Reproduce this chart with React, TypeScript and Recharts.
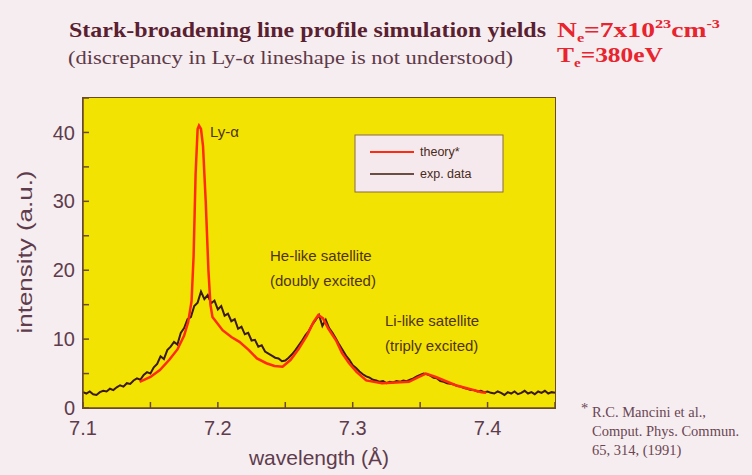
import React from 'react';
import { LineChart, Line, XAxis, YAxis } from 'recharts';

// experimental spectrum, sampled every 0.0025 A from 7.1
const expStart = 7.1;
const expStep = 0.0025;
const expIntensity = [
  2.3, 2.1, 2.4, 2.0, 1.9, 2.3, 2.5, 2.4, 2.8, 2.6,
  3.0, 3.3, 3.1, 3.6, 3.5, 4.0, 4.3, 4.1, 4.8, 5.2,
  5.0, 5.9, 6.4, 7.5, 7.1, 8.4, 8.9, 9.6, 9.2, 10.9,
  11.6, 12.9, 13.2, 14.8, 15.3, 16.9, 15.8, 16.4, 15.2, 15.6,
  14.3, 14.8, 13.4, 13.7, 12.6, 12.9, 11.5, 11.8, 10.7, 10.9,
  9.8, 9.9, 8.9, 9.1, 8.2, 7.9, 7.6, 7.3, 7.2, 6.8,
  6.9, 7.3, 7.8, 8.4, 9.1, 9.8, 10.6, 11.2, 12.1, 12.8,
  13.5, 11.9, 12.8, 11.6, 10.9, 10.1, 9.2, 8.4, 7.6, 7.0,
  6.2, 5.8, 5.3, 4.9, 4.6, 4.4, 4.1, 4.0, 3.8, 3.9,
  3.6, 3.8, 3.7, 3.9, 3.8, 4.0, 3.9, 4.1, 4.3, 4.6,
  4.8, 5.0, 4.9, 4.7, 4.4, 4.3, 3.9, 3.8, 3.6, 3.5,
  3.4, 3.2, 3.1, 2.9, 2.8, 2.6, 2.6, 2.4, 2.5, 2.3,
  2.4, 2.2, 2.1, 2.4, 2.2, 1.9, 2.3, 2.1, 2.4, 2.0,
  2.2, 2.5, 2.1, 2.3, 2.0, 2.4, 2.2, 2.5, 2.1, 2.3,
  2.2,
];

// Stark-broadened line profile calculation
const theoryWavelength = [
  7.142, 7.15, 7.157, 7.164, 7.17, 7.175, 7.178, 7.1805, 7.182, 7.1835,
  7.185, 7.186, 7.1875, 7.189, 7.191, 7.193, 7.1945, 7.196, 7.2, 7.2035,
  7.21, 7.216, 7.223, 7.229, 7.236, 7.242, 7.248, 7.254, 7.26, 7.266,
  7.271, 7.2745, 7.278, 7.282, 7.2877, 7.292, 7.2973, 7.303, 7.31, 7.3217,
  7.332, 7.3417, 7.348, 7.3542, 7.3616, 7.3764, 7.386, 7.3956, 7.399,
];
const theoryIntensity = [
  3.8, 4.5, 5.5, 7.0, 8.5, 10.5, 12.5, 15.5, 22, 34,
  40.5, 41, 40.5, 38, 30, 20, 15, 13.2, 12.2, 11.3,
  10.3, 9.6, 8.4, 7.2, 6.5, 6.1, 6.0, 7.0, 8.6, 10.5,
  12.5, 13.5, 13.0, 11.5, 9.8, 8.0, 6.5, 5.2, 4.0, 3.6,
  3.7, 3.8, 4.4, 5.0, 4.5, 3.3, 2.8, 2.3, 2.2,
];

const xTicks = [7.1, 7.15, 7.2, 7.25, 7.3, 7.35, 7.4, 7.45];
const xLabels = ['7.1', '', '7.2', '', '7.3', '', '7.4', ''];
const yTicks = [0, 5, 10, 15, 20, 25, 30, 35, 40, 45];
const yLabels = ['0', '', '10', '', '20', '', '30', '', '40', ''];

const expData = expIntensity.map((v, i) => ({
  wavelength: +(expStart + i * expStep).toFixed(4),
  intensity: v,
}));
const theoryData = theoryWavelength.map((w, i) => ({ wavelength: w, intensity: theoryIntensity[i] }));

const frame = '#6a4a2a';
const tickColor = '#5e3c4c';

export default function App() {
  return (
    <div style={{ position: 'fixed', left: 0, top: 0, width: 752, height: 475, background: '#f6edf1', overflow: 'hidden' }}>
      {/* yellow plot background with its frame, under the chart svg */}
      <div style={{ position: 'absolute', left: 82, top: 97, width: 474, height: 312, boxSizing: 'border-box', background: '#f3e303', border: `1.5px solid ${frame}` }} />
      <div style={{ position: 'absolute', left: 0, top: 0 }}>
        <LineChart width={752} height={475} margin={{ top: 98, right: 197, left: 33, bottom: 27 }}>
          <XAxis
            dataKey="wavelength" type="number" domain={[7.1, 7.45]} ticks={xTicks}
            tickFormatter={(v, i) => xLabels[i]} interval={0} height={40} tickSize={-6} tickMargin={19}
            tickLine={{ stroke: frame, strokeWidth: 1.5 }} axisLine={{ stroke: frame, strokeWidth: 1.5 }}
            tick={{ fill: tickColor, fontSize: 20, fontFamily: 'Liberation Sans, Arial, sans-serif' }}
            label={{ value: 'wavelength (Å)', position: 'insideBottom', offset: -17, fill: tickColor, fontSize: 21, fontFamily: 'Liberation Sans, Arial, sans-serif' }}
          />
          <YAxis
            type="number" domain={[0, 45]} ticks={yTicks} interval={0} width={50}
            tickFormatter={(v, i) => yLabels[i]} tickSize={-6} tickMargin={14}
            tickLine={{ stroke: frame, strokeWidth: 1.5 }} axisLine={{ stroke: frame, strokeWidth: 1.5 }}
            tick={{ fill: tickColor, fontSize: 20, fontFamily: 'Liberation Sans, Arial, sans-serif' }}
          />
          <Line data={expData} dataKey="intensity" type="linear" dot={false}
            stroke="#3b1a0c" strokeWidth={2} isAnimationActive={false} />
          <Line data={theoryData} dataKey="intensity" type="linear" dot={false}
            stroke="#ff2a10" strokeWidth={2.5} isAnimationActive={false} />
        </LineChart>
      </div>
      <svg width={752} height={475} style={{ position: 'absolute', left: 0, top: 0, pointerEvents: 'none' }}>
        <g fontFamily="Liberation Serif, Times New Roman, serif">
          <text x={69} y={37} fontSize={21} fontWeight="bold" fill="#5a1f30" textLength={477} lengthAdjust="spacingAndGlyphs">
            Stark-broadening line profile simulation yields
          </text>
          <text x={68} y={64} fontSize={18} fill="#5e3a48" textLength={445} lengthAdjust="spacingAndGlyphs">
            (discrepancy in Ly-α lineshape is not understood)
          </text>
          <text x={557} y={37} fontSize={22} fontWeight="bold" fill="#e8242e" textLength={163} lengthAdjust="spacingAndGlyphs">
            N<tspan fontSize={13} dy={5}>e</tspan><tspan dy={-5}>=7x10</tspan><tspan fontSize={13} dy={-9}>23</tspan><tspan dy={9}>cm</tspan><tspan fontSize={13} dy={-9}>-3</tspan>
          </text>
          <text x={557} y={62} fontSize={22} fontWeight="bold" fill="#e8242e" textLength={106} lengthAdjust="spacingAndGlyphs">
            T<tspan fontSize={13} dy={5}>e</tspan><tspan dy={-5}>=380eV</tspan>
          </text>
          <g fontSize={14.5} fill="#6a4652">
            <text x={581} y={413}>*</text>
            <text x={592} y={417}>R.C. Mancini et al.,</text>
            <text x={592} y={436}>Comput. Phys. Commun.</text>
            <text x={592} y={455}>65, 314, (1991)</text>
          </g>
        </g>
        <text x={32} y={252} fontSize={20} fill={tickColor} fontFamily="Liberation Sans, Arial, sans-serif"
          textAnchor="middle" transform="rotate(-90 32 252)" textLength={163} lengthAdjust="spacingAndGlyphs">
          intensity (a.u.)
        </text>
        <g fontFamily="Liberation Sans, Arial, sans-serif" fill="#4f3312" fontSize={15}>
          <text x={210} y={137}>Ly-α</text>
          <text x={270} y={261}>He-like satellite</text>
          <text x={270} y={286}>(doubly excited)</text>
          <text x={385} y={326}>Li-like satellite</text>
          <text x={385} y={351}>(triply excited)</text>
        </g>
        <rect x={355} y={135} width={148} height={57} fill="#f5e9ee" stroke="#8a6a40" strokeWidth={1} />
        <line x1={370} y1={152} x2={414} y2={152} stroke="#ff2a10" strokeWidth={2} />
        <line x1={370} y1={174} x2={414} y2={174} stroke="#3b1a0c" strokeWidth={1.5} />
        <g fontFamily="Liberation Sans, Arial, sans-serif" fill="#4a2a20" fontSize={12.5}>
          <text x={420} y={156}>theory*</text>
          <text x={420} y={178}>exp. data</text>
        </g>
      </svg>
    </div>
  );
}
